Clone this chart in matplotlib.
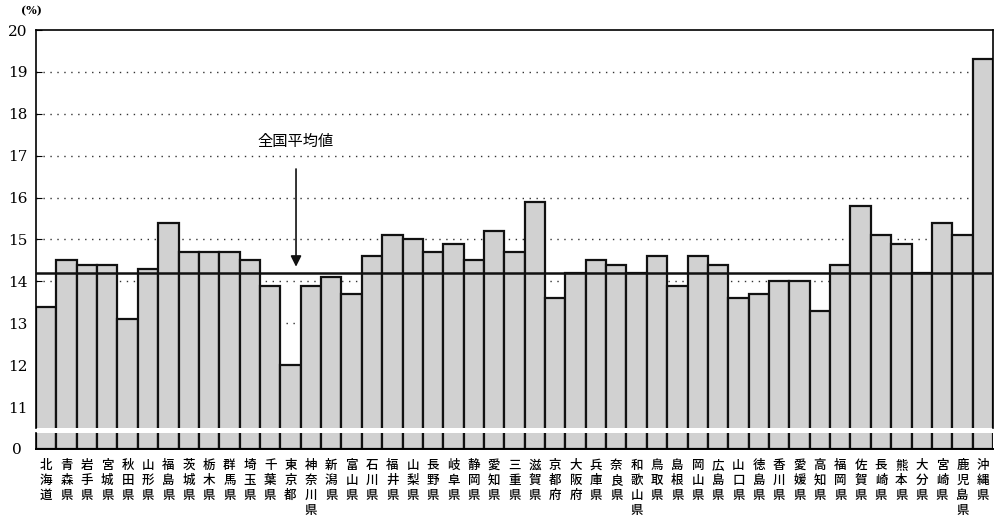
import numpy as np
import matplotlib.pyplot as plt

plt.rcParams['font.family'] = ['Noto Sans CJK JP', 'DejaVu Sans']

# Prefectures and values (%)
prefs = ["北海道", "青森県", "岩手県", "宮城県", "秋田県", "山形県", "福島県", "茨城県",
         "栃木県", "群馬県", "埼玉県", "千葉県", "東京都", "神奈川県", "新潟県", "富山県",
         "石川県", "福井県", "山梨県", "長野県", "岐阜県", "静岡県", "愛知県", "三重県",
         "滋賀県", "京都府", "大阪府", "兵庫県", "奈良県", "和歌山県", "鳥取県", "島根県",
         "岡山県", "広島県", "山口県", "徳島県", "香川県", "愛媛県", "高知県", "福岡県",
         "佐賀県", "長崎県", "熊本県", "大分県", "宮崎県", "鹿児島県", "沖縄県"]
values = [13.4, 14.5, 14.4, 14.4, 13.1, 14.3, 15.4, 14.7,
          14.7, 14.7, 14.5, 13.9, 12.0, 13.9, 14.1, 13.7,
          14.6, 15.1, 15.0, 14.7, 14.9, 14.5, 15.2, 14.7,
          15.9, 13.6, 14.2, 14.5, 14.4, 14.2, 14.6, 13.9,
          14.6, 14.4, 13.6, 13.7, 14.0, 14.0, 13.3, 14.4,
          15.8, 15.1, 14.9, 14.2, 15.4, 15.1, 19.3]
national_avg = 14.2
upper_ticks = list(range(11, 21))
grid_vals = list(range(12, 20))

x = np.arange(len(prefs))
fill = '#d1d1d1'

fig = plt.figure(figsize=(10, 5.23), dpi=100)
ax = fig.add_axes([0.036, 0.1816, 0.957, 0.7610])
axb = fig.add_axes([0.036, 0.1415, 0.957, 0.0306])

# upper part
for g in grid_vals:
    ax.axhline(g, color='#333333', lw=1.0, ls=(0, (1, 4)), zorder=1)
ax.bar(x, values, width=1.0, color=fill, edgecolor='#111111', linewidth=1.6, zorder=2)
ax.axhline(national_avg, color='#111111', lw=1.8, zorder=3)
ax.set_xlim(-0.5, len(prefs) - 0.5)
ax.set_ylim(10.5, 20)
ax.set_yticks(upper_ticks)
ax.set_yticklabels([str(t) for t in upper_ticks], family='DejaVu Serif', fontsize=11)
ax.tick_params(axis='y', direction='in', length=4, pad=6)
ax.set_xticks([])
ax.spines['bottom'].set_visible(False)
for s in ['left', 'top', 'right']:
    ax.spines[s].set_linewidth(1.2)

ax.annotate('全国平均値', xy=(12.27, 14.35), xytext=(12.27, 17.35),
            ha='center', va='center', fontsize=11,
            arrowprops=dict(arrowstyle='-|>', color='#111111', lw=1.2,
                            mutation_scale=16, shrinkA=12, shrinkB=0))
fig.text(0.031, 1 - 11 / 523, '(%)', fontsize=8, ha='center', va='center',
         family='DejaVu Serif', fontweight='bold')

# lower part (axis break)
axb.bar(x, [0.5] * len(prefs), width=1.0, color=fill, edgecolor='#111111',
        linewidth=1.6, zorder=2)
axb.set_xlim(-0.5, len(prefs) - 0.5)
axb.set_ylim(0, 0.38)
axb.set_yticks([0])
axb.set_yticklabels(['0'], family='DejaVu Serif', fontsize=11)
axb.tick_params(axis='y', length=0, pad=10)
axb.set_xticks(x)
axb.set_xticklabels(['\n'.join(p) for p in prefs], fontsize=9, linespacing=1.22,
                    va='top', fontweight='medium')
axb.tick_params(axis='x', length=0, pad=7)
axb.spines['top'].set_visible(False)
axb.spines['right'].set_visible(False)
axb.spines['left'].set_linewidth(1.2)
axb.spines['bottom'].set_linewidth(1.4)

fig.savefig('out.png', dpi=100)
